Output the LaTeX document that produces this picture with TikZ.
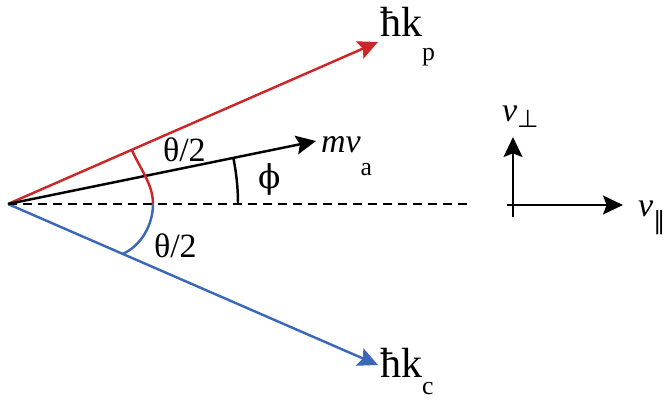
\documentclass[tikz,border=0pt]{standalone}
\usepackage{fontspec}
\setmainfont{Liberation Serif}
\newfontfamily\greekserif{DejaVu Serif}
\newfontfamily\symsans{DejaVu Sans}
\usetikzlibrary{arrows.meta, calc}
\definecolor{kpred}{RGB}{205,38,40}
\definecolor{kcblue}{RGB}{60,104,184}
\newcommand{\bigfont}{\fontsize{36}{40}\selectfont}
\newcommand{\midfont}{\fontsize{29}{32}\selectfont}
\newcommand{\subfont}{\fontsize{22}{24}\selectfont}
\newcommand{\symfont}{\fontsize{21}{24}\symsans}
\tikzset{
  vec/.style   = {line width=2.1pt, -{Stealth[length=17pt, width=16pt, inset=3pt]}},
  anglearc/.style = {line width=2.1pt},
  lbl/.style   = {anchor=base west, inner sep=0pt, outer sep=0pt, text=black},
}

\begin{document}
\begin{tikzpicture}[x=0.03cm, y=0.03cm]
    \useasboundingbox (0,0) rectangle (666,413);
    \coordinate (o)  at (8,209);
    \coordinate (kp) at (378,371);
    \coordinate (kc) at (378,48);
    \coordinate (va) at (316,272);
    \coordinate (de) at (468,209);

    % momentum vectors
    \draw [vec, kpred]  (o) -- (kp);
    \draw [vec, kcblue] (o) -- (kc);
    \draw [vec]         (o) -- (va);
    \draw [line width=2.1pt, dash pattern=on 7.7pt off 5.1pt] (o) -- (de);

    % angles
    \draw [anglearc, kpred]  (131.7,263.2) .. controls (142,241) and (153,228) .. (153,209);
    \draw [anglearc, kcblue] (153,209) .. controls (153,188) and (141,167) .. (122.6,159.1);
    \draw [anglearc] ($(o)+(6.9cm,0)$) arc [start angle=0, end angle=11.56, radius=6.9cm];

    % labels
    \node (lkp) [lbl] at (380,376) {\bigfont ħk\raisebox{-20pt}{\subfont p}};
    \node (lkc) [lbl] at (380,36)  {\bigfont ħk\raisebox{-15pt}{\subfont c}};
    \node (lva) [lbl] at (321,260) {\midfont\itshape mv\raisebox{-19pt}{\subfont\upshape a}};
    \node (lt1) [lbl] at (163,251) {\midfont θ/2};
    \node (lt2) [lbl] at (154,156) {\midfont θ/2};
    \node (lph) [lbl] at (258,224) {\fontsize{28}{30}\greekserif ϕ};

    % velocity axes
    \coordinate (vt) at (513,276);
    \coordinate (vb) at (513,196);
    \coordinate (vl) at (507,208);
    \coordinate (vr) at (623,208);
    \draw [vec] (vb) -- (vt);
    \draw [vec] (vl) -- (vr);
    \node (lvp) [lbl] at (502,291) {\midfont\itshape v\raisebox{-5pt}{\symfont ⊥}};
    \node (lvl) [lbl] at (638,196) {\midfont\itshape v\raisebox{-11pt}{\symfont ∥}};
\end{tikzpicture}
\end{document}
